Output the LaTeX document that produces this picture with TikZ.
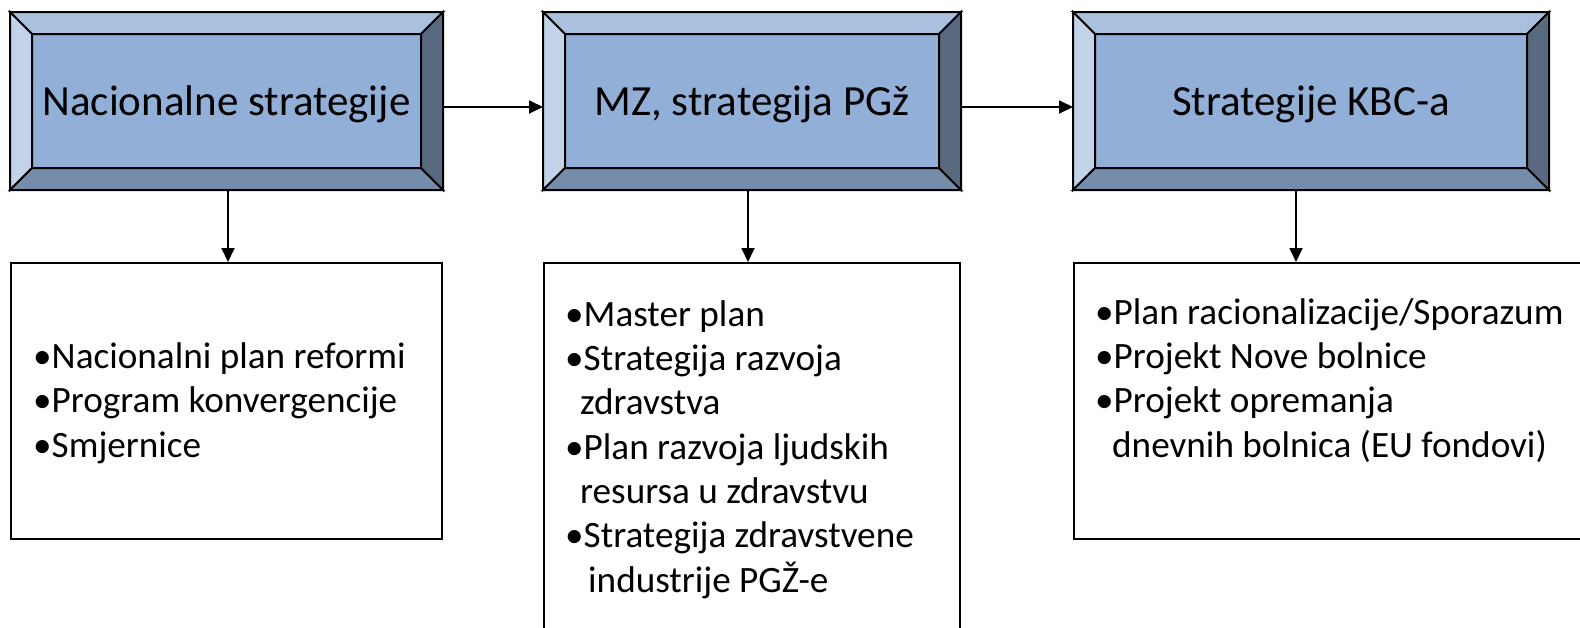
\documentclass[tikz,border=0pt]{standalone}
\usepackage{fontspec}
\setmainfont{Carlito}
\usepackage{xcolor}
\usetikzlibrary{arrows.meta,calc}
\definecolor{bevtop}{RGB}{169,193,223}
\definecolor{bevleft}{RGB}{194,211,233}
\definecolor{bevmid}{RGB}{145,175,215}
\definecolor{bevbot}{RGB}{117,141,171}
\definecolor{bevright}{RGB}{89,106,128}
\tikzset{>={Triangle[length=14pt,width=13pt]}}
\tikzset{
  headbox/.style={draw,line width=2pt,fill=bevmid,inner sep=0pt,
    minimum height=176pt,text height=40pt,text depth=12pt,
    font=\fontsize{43}{52}\selectfont},
  listbox/.style={draw,line width=2pt,fill=white,inner sep=0pt},
  listtext/.style={align=left,inner sep=0pt,anchor=base west,
    font=\fontsize{37.2}{44.3}\selectfont},
  flow/.style={->,line width=1.8pt}
}
% bevel border round a head box
\newcommand{\bevelframe}[1]{%
  \draw[line width=2pt,fill=bevtop] (#1.north west) -- (#1.north east)
    -- ($(#1.north east)+(-22,22)$) -- ($(#1.north west)+(22,22)$) -- cycle;
  \draw[line width=2pt,fill=bevleft] (#1.north west) -- ($(#1.north west)+(22,22)$)
    -- ($(#1.south west)+(22,-22)$) -- (#1.south west) -- cycle;
  \draw[line width=2pt,fill=bevbot] (#1.south west) -- ($(#1.south west)+(22,-22)$)
    -- ($(#1.south east)+(-22,-22)$) -- (#1.south east) -- cycle;
  \draw[line width=2pt,fill=bevright] (#1.north east) -- (#1.south east)
    -- ($(#1.south east)+(-22,-22)$) -- ($(#1.north east)+(-22,22)$) -- cycle;
}

\begin{document}
\begin{tikzpicture}[x=1pt,y=-1pt]
    \clip (0,0) rectangle (1580,627);
    % strategy levels
    \node[headbox,minimum width=431pt] (nat) at (226.5,101) {Nacionalne strategije};
    \node[headbox,minimum width=416pt] (mz) at (752,101) {MZ, strategija PGž};
    \node[headbox,minimum width=474pt] (kbc) at (1311,101) {Strategije KBC-a};
    \bevelframe{nat}
    \bevelframe{mz}
    \bevelframe{kbc}
    % documents (base anchor = last line)
    \node[listbox,minimum width=431pt,minimum height=276pt] (natlist) at (226.5,401) {};
    \node[listbox,minimum width=416pt,minimum height=382pt] (mzlist) at (752,454) {};
    \node[listbox,minimum width=521pt,minimum height=276pt] (kbclist) at (1334.5,401) {};
    \node[listtext] (natitems) at (33,457)
        {•Nacionalni plan reformi\\•Program konvergencije\\•Smjernice};
    \node[listtext] (mzitems) at (565,592)
        {•Master plan\\•Strategija razvoja\\\hspace*{15pt}zdravstva\\•Plan razvoja ljudskih\\
         \hspace*{15pt}resursa u zdravstvu\\•Strategija zdravstvene\\\hspace*{23pt}industrije PGŽ-e};
    \node[listtext] (kbcitems) at (1095,457)
        {•Plan racionalizacije/Sporazum\\•Projekt Nove bolnice\\•Projekt opremanja\\
         \hspace*{17pt}dnevnih bolnica (EU fondovi)};
    % arrows
    \draw[flow] ([yshift=-6pt]nat.east) -- ([yshift=-6pt]mz.west);
    \draw[flow] ([yshift=-6pt]mz.east) -- ([yshift=-6pt]kbc.west);
    \draw[flow] ([xshift=1.5pt]nat.south) -- ([xshift=1.5pt]nat.south |- natlist.north);
    \draw[flow] ([xshift=-4pt]mz.south) -- ([xshift=-4pt]mz.south |- mzlist.north);
    \draw[flow] ([xshift=-15pt]kbc.south) -- ([xshift=-15pt]kbc.south |- kbclist.north);
\end{tikzpicture}
\end{document}
